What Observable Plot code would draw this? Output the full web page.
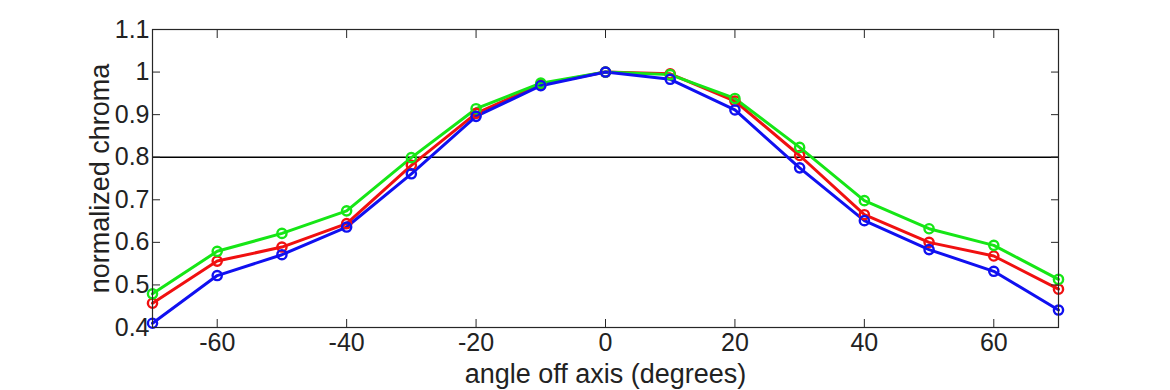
<!DOCTYPE html>
<html>
<head>
<meta charset="utf-8">
<script src="https://cdn.jsdelivr.net/npm/d3@7"></script>
<script src="https://cdn.jsdelivr.net/npm/@observablehq/plot@0.6"></script>
<style>
  html, body { margin: 0; padding: 0; background: #fff; }
  #chart svg { display: block; }
</style>
</head>
<body>
<div id="chart"></div>
<script>
const angles = [-70, -60, -50, -40, -30, -20, -10, 0, 10, 20, 30, 40, 50, 60, 70];
const redValues   = [0.457, 0.556, 0.589, 0.644, 0.781, 0.903, 0.971, 1.0, 0.996, 0.932, 0.804, 0.665, 0.600, 0.568, 0.490];
const greenValues = [0.479, 0.579, 0.621, 0.674, 0.799, 0.914, 0.974, 1.0, 0.994, 0.938, 0.823, 0.698, 0.632, 0.593, 0.513];
const blueValues  = [0.410, 0.522, 0.571, 0.636, 0.761, 0.896, 0.968, 1.0, 0.983, 0.911, 0.775, 0.651, 0.583, 0.532, 0.441];
const xTicks = [-60, -40, -20, 0, 20, 40, 60];
const yTicks = [0.4, 0.5, 0.6, 0.7, 0.8, 0.9, 1.0, 1.1];
const threshold = [0.8];
const xLabel = "angle off axis (degrees)";
const yLabel = "normalized chroma";

const series = [
  {name: "R", values: redValues, color: "#f01010"},
  {name: "G", values: greenValues, color: "#16e616"},
  {name: "B", values: blueValues, color: "#1010f0"}
];
const rows = series.flatMap(s => s.values.map((v, i) => ({angle: angles[i], value: v, series: s.name})));
const colorDomain = series.map(s => s.name);
const colorRange = series.map(s => s.color);
const fmtY = d => String(+d.toFixed(1));
const fmtX = d => String(d);

const plot = Plot.plot({
  width: 1170,
  height: 390,
  marginLeft: 152,
  marginRight: 112,
  marginTop: 29,
  marginBottom: 63,
  style: {fontFamily: "'Liberation Sans', Arial, sans-serif", fontSize: "25px", color: "#222", background: "#fff"},
  x: {domain: [-70, 70], label: null},
  y: {domain: [0.4, 1.1], label: null},
  color: {domain: colorDomain, range: colorRange},
  marks: [
    Plot.ruleY(threshold, {stroke: "#000", strokeWidth: 1.5}),
    Plot.line(rows, {x: "angle", y: "value", z: "series", stroke: "series", strokeWidth: 3}),
    Plot.dot(rows, {x: "angle", y: "value", stroke: "series", r: 4.6, strokeWidth: 2.4, fill: "none"}),
    Plot.frame({stroke: "#262626", strokeWidth: 1.2}),
    Plot.axisX({anchor: "bottom", ticks: xTicks, tickSize: -8, tickFormat: () => "", stroke: "#262626", label: null}),
    Plot.axisX({anchor: "top", ticks: xTicks, tickSize: -8, tickFormat: () => "", stroke: "#262626", label: null}),
    Plot.axisY({anchor: "left", ticks: yTicks, tickSize: -8, tickFormat: () => "", stroke: "#262626", label: null}),
    Plot.axisY({anchor: "right", ticks: yTicks, tickSize: -8, tickFormat: () => "", stroke: "#262626", label: null}),
    Plot.axisX({anchor: "bottom", ticks: xTicks, tickSize: 0, tickPadding: 6, tickFormat: fmtX, fontSize: 25, fill: "#222", label: null}),
    Plot.axisY({anchor: "left", ticks: yTicks, tickSize: 0, tickPadding: 3, tickFormat: fmtY, fontSize: 25, fill: "#222", label: null}),
    Plot.text([xLabel], {text: d => d, frameAnchor: "bottom", textAnchor: "middle", dy: 55, fontSize: 27, fill: "#222"}),
    Plot.text([yLabel], {text: d => d, frameAnchor: "left", textAnchor: "middle", dx: -52, rotate: -90, fontSize: 27, fill: "#222"})
  ]
});
document.getElementById("chart").appendChild(plot);
</script>
</body>
</html>
